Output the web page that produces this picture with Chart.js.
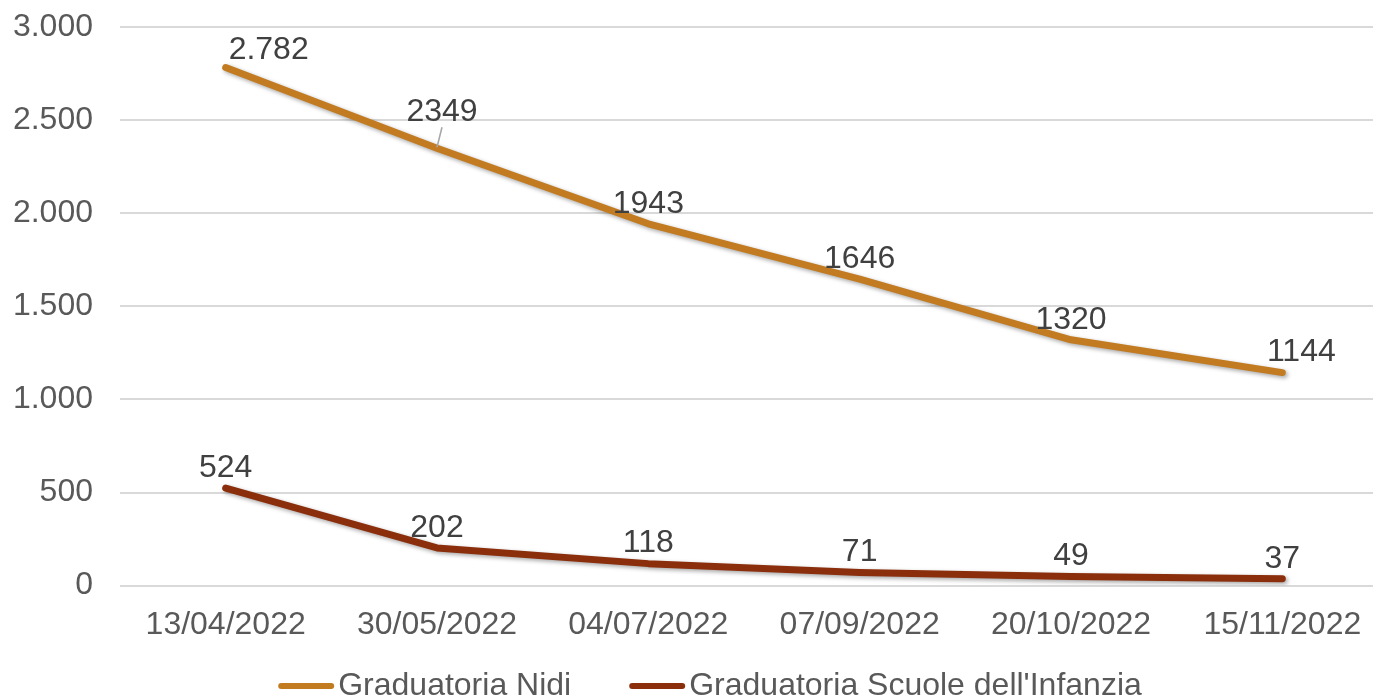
<!DOCTYPE html>
<html lang="it">
<head>
<meta charset="utf-8">
<title>Graduatorie</title>
<script src="https://cdn.jsdelivr.net/npm/chart.js@4.4.1/dist/chart.umd.min.js"></script>
<style>
  html, body { margin: 0; padding: 0; background: #fff; overflow: hidden; }
  #wrap { position: absolute; left: 0; top: 0; width: 1388px; height: 698px; }
</style>
</head>
<body>
<div id="wrap"><canvas id="chart"></canvas></div>
<script>
// dati
const dates = ['13/04/2022', '30/05/2022', '04/07/2022', '07/09/2022', '20/10/2022', '15/11/2022'];
const nidi = [2782, 2349, 1943, 1646, 1320, 1144];
const nidiLabels = ['2.782', '2349', '1943', '1646', '1320', '1144'];
const infanzia = [524, 202, 118, 71, 49, 37];
const infanziaLabels = ['524', '202', '118', '71', '49', '37'];
const yTicks = [0, 500, 1000, 1500, 2000, 2500, 3000];

const FONT = "'Liberation Sans', Arial, sans-serif";
const FSIZE = 32;

// etichette spostate a mano nell'originale: "dataset-indice" -> [dx, dy, linea guida]
const labelNudge = {
    '0-0': [43, 3, false],
    '0-1': [5, -16, true],
    '0-5': [19, 0, false]
};

// ombra sotto le linee
const lineShadow = {
    id: 'lineShadow',
    beforeDatasetsDraw(chart) {
        const ctx = chart.ctx;
        ctx.save();
        ctx.shadowColor = 'rgba(0,0,0,0.35)';
        ctx.shadowBlur = 4;
        ctx.shadowOffsetX = 2;
        ctx.shadowOffsetY = 2;
    },
    afterDatasetsDraw(chart) {
        chart.ctx.restore();
    }
};

// etichette dei valori sopra i punti
const valueLabels = {
    id: 'valueLabels',
    afterDatasetsDraw(chart) {
        const ctx = chart.ctx;
        ctx.save();
        ctx.font = FSIZE + 'px ' + FONT;
        ctx.textAlign = 'center';
        ctx.textBaseline = 'middle';
        chart.data.datasets.forEach((ds, i) => {
            const meta = chart.getDatasetMeta(i);
            meta.data.forEach((pt, j) => {
                const [dx, dy, leader] = labelNudge[i + '-' + j] || [0, 0, false];
                const lx = pt.x + dx, ly = pt.y - 20 + dy;
                if (leader) {
                    ctx.strokeStyle = '#A6A6A6';
                    ctx.lineWidth = 1.5;
                    ctx.beginPath();
                    ctx.moveTo(pt.x, pt.y - 1);
                    ctx.lineTo(lx, ly + 15);
                    ctx.stroke();
                }
                ctx.fillStyle = '#404040';
                ctx.fillText(ds.valueLabels[j], lx, ly);
            });
        });
        ctx.restore();
    }
};

// legenda in basso, disegnata a mano (linea lunga, testo attaccato)
const bottomLegend = {
    id: 'bottomLegend',
    afterDraw(chart) {
        const ctx = chart.ctx;
        const lineW = 56, gap = 4, itemGap = 58;
        const y = 686;
        ctx.save();
        ctx.font = FSIZE + 'px ' + FONT;
        ctx.textBaseline = 'middle';
        const items = chart.data.datasets.map(ds => ({
            text: ds.label, color: ds.borderColor, w: ctx.measureText(ds.label).width
        }));
        const total = items.reduce((s, it) => s + lineW + gap + it.w, 0) + itemGap * (items.length - 1);
        let x = 710 - total / 2;
        items.forEach(it => {
            ctx.strokeStyle = it.color;
            ctx.lineWidth = 6;
            ctx.lineCap = 'round';
            ctx.beginPath();
            ctx.moveTo(x + 3, y);
            ctx.lineTo(x + lineW - 3, y);
            ctx.stroke();
            ctx.fillStyle = '#595959';
            ctx.fillText(it.text, x + lineW + gap, y);
            x += lineW + gap + it.w + itemGap;
        });
        ctx.restore();
    }
};

new Chart(document.getElementById('chart'), {
    type: 'line',
    data: {
        labels: dates,
        datasets: [
            {
                label: 'Graduatoria Nidi',
                data: nidi,
                valueLabels: nidiLabels,
                borderColor: '#C27B21',
                backgroundColor: '#C27B21',
                borderWidth: 7,
                borderCapStyle: 'round',
                borderJoinStyle: 'round',
                pointRadius: 0,
                tension: 0
            },
            {
                label: "Graduatoria Scuole dell'Infanzia",
                data: infanzia,
                valueLabels: infanziaLabels,
                borderColor: '#8B2E0C',
                backgroundColor: '#8B2E0C',
                borderWidth: 7,
                borderCapStyle: 'round',
                borderJoinStyle: 'round',
                pointRadius: 0,
                tension: 0
            }
        ]
    },
    options: {
        responsive: true,
        maintainAspectRatio: false,
        animation: false,
        layout: { autoPadding: false, padding: { left: 0, top: 27, right: 0, bottom: 34 } },
        plugins: {
            legend: { display: false },
            tooltip: { enabled: false }
        },
        scales: {
            x: {
                offset: true,
                grid: { display: false, drawTicks: false },
                border: { display: false },
                ticks: {
                    color: '#595959',
                    padding: 20,
                    maxRotation: 0,
                    font: { family: FONT, size: FSIZE }
                }
            },
            y: {
                min: 0,
                max: 3000,
                afterBuildTicks(axis) {
                    axis.ticks = yTicks.map(v => ({ value: v }));
                },
                afterFit(axis) {
                    axis.width = 120;
                    axis.paddingTop = 0;
                    axis.paddingBottom = 0;
                },
                grid: { color: '#D9D9D9', lineWidth: 2, drawTicks: false },
                border: { display: false },
                ticks: {
                    color: '#595959',
                    padding: 27,
                    font: { family: FONT, size: FSIZE },
                    callback: v => String(v).replace(/\B(?=(\d{3})+(?!\d))/g, '.')
                }
            }
        }
    },
    plugins: [lineShadow, valueLabels, bottomLegend]
});
</script>
</body>
</html>
